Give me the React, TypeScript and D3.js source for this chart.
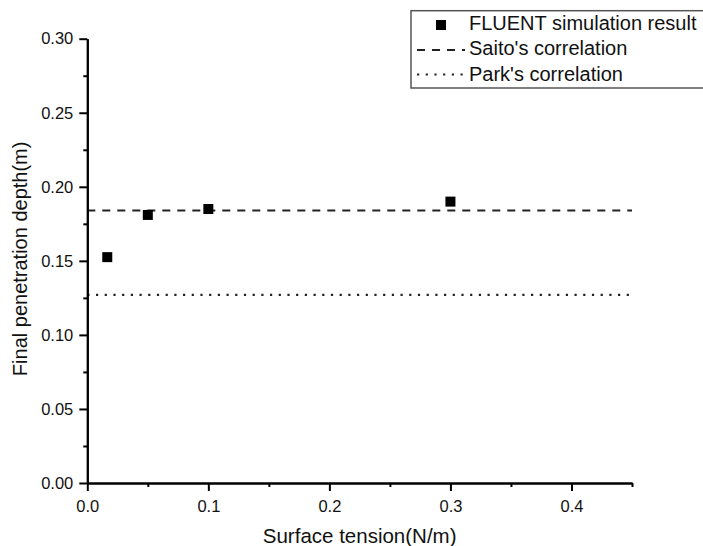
import React, { Component } from "react";
import * as d3 from "d3";

// surface tension (N/m) and final penetration depth (m) from FLUENT
const tensionValues = [0.0165, 0.05, 0.1, 0.3];
const depthValues = [0.1525, 0.181, 0.185, 0.19];

// correlation lines (constant depth)
const saitoDepth = 0.184;
const parkDepth = 0.127;

const xMajorTicks = [0, 0.1, 0.2, 0.3, 0.4];
const xMinorTicks = [0.05, 0.15, 0.25, 0.35, 0.45];
const yMajorTicks = [0, 0.05, 0.1, 0.15, 0.2, 0.25, 0.3];
const yMinorTicks = [0.025, 0.075, 0.125, 0.175, 0.225, 0.275];

const legendLabels = ["FLUENT simulation result", "Saito's correlation", "Park's correlation"];

const FONT = "'Liberation Sans', Arial, sans-serif";

class App extends Component {
  svgRef: any;

  constructor(props: any) {
    super(props);
    this.svgRef = React.createRef();
  }

  componentDidMount() {
    this.drawChart();
  }

  drawChart() {
    const svgEl = this.svgRef.current;
    d3.select(svgEl).selectAll("*").remove();

    const width = 703;
    const height = 546;
    const margin = { top: 38.7, right: 71, bottom: 63, left: 87.3 };

    const svg = d3.select(svgEl).attr("width", width).attr("height", height);

    const xScale = d3.scaleLinear()
      .domain([0, 0.45])
      .range([margin.left, width - margin.right]);

    const yScale = d3.scaleLinear()
      .domain([0, 0.3])
      .range([height - margin.bottom, margin.top]);

    const x0 = xScale(0);
    const x1 = xScale(0.45);
    const yBase = yScale(0);

    // correlation lines
    svg.append("line")
      .attr("x1", x0).attr("x2", x1)
      .attr("y1", yScale(saitoDepth)).attr("y2", yScale(saitoDepth))
      .attr("stroke", "#222").attr("stroke-width", 2)
      .attr("stroke-dasharray", "8,7");

    svg.append("line")
      .attr("x1", x0).attr("x2", x1)
      .attr("y1", yScale(parkDepth)).attr("y2", yScale(parkDepth))
      .attr("stroke", "#222").attr("stroke-width", 2.2)
      .attr("stroke-dasharray", "2.2,6.5");

    // points
    const pts = tensionValues.map((t, i) => ({ t, d: depthValues[i] }));
    svg.selectAll("rect.pt")
      .data(pts)
      .enter()
      .append("rect")
      .attr("class", "pt")
      .attr("x", d => xScale(d.t) - 5)
      .attr("y", d => yScale(d.d) - 5)
      .attr("width", 10)
      .attr("height", 10)
      .attr("fill", "#000");

    // axes
    const xAxis = d3.axisBottom(xScale)
      .tickValues(xMajorTicks)
      .tickSize(8)
      .tickSizeOuter(0)
      .tickPadding(9)
      .tickFormat(d3.format(".1f"));

    const xMinor = d3.axisBottom(xScale)
      .tickValues(xMinorTicks)
      .tickSize(4)
      .tickSizeOuter(0)
      .tickFormat(() => "");

    const yAxis = d3.axisLeft(yScale)
      .tickValues(yMajorTicks)
      .tickSize(8)
      .tickSizeOuter(0)
      .tickPadding(6)
      .tickFormat(d3.format(".2f"));

    const yMinor = d3.axisLeft(yScale)
      .tickValues(yMinorTicks)
      .tickSize(4)
      .tickSizeOuter(0)
      .tickFormat(() => "");

    const styleAxis = (g: any) => {
      g.select(".domain").attr("stroke", "#000").attr("stroke-width", 2);
      g.selectAll(".tick line").attr("stroke", "#000").attr("stroke-width", 2);
      g.selectAll(".tick text")
        .attr("fill", "#111")
        .style("font-family", FONT)
        .style("font-size", "16.5px");
    };

    svg.append("g")
      .attr("transform", `translate(0, ${yBase})`)
      .call(xMinor)
      .call(styleAxis);

    svg.append("g")
      .attr("transform", `translate(0, ${yBase})`)
      .call(xAxis)
      .call(styleAxis);

    svg.append("g")
      .attr("transform", `translate(${x0}, 0)`)
      .call(yMinor)
      .call(styleAxis);

    svg.append("g")
      .attr("transform", `translate(${x0}, 0)`)
      .call(yAxis)
      .call(styleAxis);

    // axis titles
    svg.append("text")
      .attr("x", (x0 + x1) / 2)
      .attr("y", 543)
      .attr("text-anchor", "middle")
      .style("font-family", FONT)
      .style("font-size", "20.5px")
      .attr("fill", "#111")
      .text("Surface tension(N/m)");

    svg.append("text")
      .attr("transform", "rotate(-90)")
      .attr("x", -(margin.top + yBase) / 2 + 2)
      .attr("y", 27)
      .attr("text-anchor", "middle")
      .style("font-family", FONT)
      .style("font-size", "20px")
      .attr("fill", "#111")
      .text("Final penetration depth(m)");

    // legend
    const lg = svg.append("g");
    lg.append("rect")
      .attr("x", 411)
      .attr("y", 10.7)
      .attr("width", 320)
      .attr("height", 77.3)
      .attr("fill", "#fff")
      .attr("stroke", "#555")
      .attr("stroke-width", 1.5);

    lg.append("rect")
      .attr("x", 436).attr("y", 20)
      .attr("width", 10).attr("height", 10)
      .attr("fill", "#000");

    lg.append("line")
      .attr("x1", 417).attr("x2", 465)
      .attr("y1", 50).attr("y2", 50)
      .attr("stroke", "#222").attr("stroke-width", 2)
      .attr("stroke-dasharray", "8,7");

    lg.append("line")
      .attr("x1", 417).attr("x2", 465)
      .attr("y1", 74.5).attr("y2", 74.5)
      .attr("stroke", "#222").attr("stroke-width", 2.2)
      .attr("stroke-dasharray", "2.2,6.5");

    lg.selectAll("text.lbl")
      .data(legendLabels)
      .enter()
      .append("text")
      .attr("class", "lbl")
      .attr("x", 469)
      .attr("y", (d, i) => 30 + i * 25.3)
      .style("font-family", FONT)
      .style("font-size", "20px")
      .attr("fill", "#111")
      .text(d => d);
  }

  render() {
    return (
      <svg
        ref={this.svgRef}
        style={{ position: "absolute", left: 0, top: 0, background: "#fff" }}
      ></svg>
    );
  }
}

export default App;
